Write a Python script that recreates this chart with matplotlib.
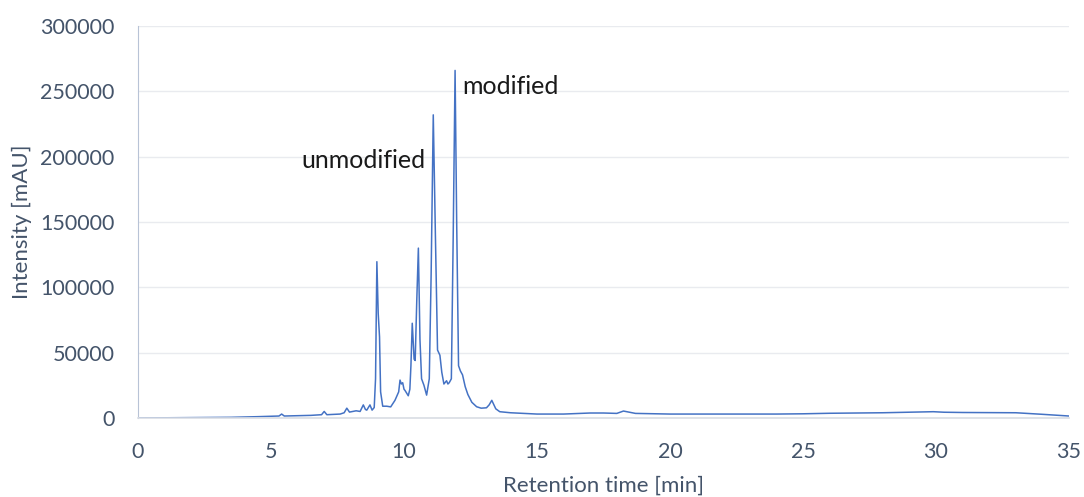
import numpy as np
import matplotlib.pyplot as plt

plt.rcParams['font.family'] = ['Lato', 'DejaVu Sans']

# Chromatogram (retention time in min, intensity in mAU)
time = [0, 3.5, 4.5, 5.3, 5.4, 5.5, 6.5, 6.9, 7.0, 7.1, 7.6, 7.75, 7.85, 7.95,
        8.2, 8.35, 8.47, 8.55, 8.6, 8.72, 8.8, 8.88, 8.93, 8.98, 9.03, 9.08,
        9.12, 9.2, 9.35, 9.5, 9.66, 9.8, 9.85, 9.9, 9.95, 10.0, 10.04, 10.16,
        10.22, 10.26, 10.31, 10.38, 10.42, 10.48, 10.54, 10.6, 10.66, 10.75,
        10.85, 10.95, 11.02, 11.1, 11.18, 11.26, 11.35, 11.42, 11.5, 11.6,
        11.65, 11.7, 11.78, 11.85, 11.92, 11.98, 12.05, 12.12, 12.2, 12.3,
        12.4, 12.55, 12.73, 12.9, 13.1, 13.2, 13.3, 13.45, 13.6, 14.0, 15, 16,
        17, 17.5, 18, 18.25, 18.7, 20, 22, 24, 25, 26, 28, 29.9, 30.3, 31, 33,
        34, 35]
intensity = [0, 500, 1000, 1500, 3000, 1500, 2000, 2500, 5000, 2500, 3000,
             4000, 7500, 4500, 5500, 5000, 10000, 6500, 6000, 10000, 6000, 8000,
             30000, 119600, 80000, 62000, 20000, 9000, 9000, 8500, 13500, 20000,
             29000, 26000, 27000, 22000, 21000, 17000, 22000, 40000, 72500,
             45000, 44000, 90000, 130000, 60000, 30000, 25000, 17500, 30000,
             110000, 232000, 140000, 52000, 48000, 35000, 26000, 28500, 26000,
             27000, 30000, 140000, 266000, 150000, 40000, 36000, 33000, 24000,
             18000, 12000, 8600, 7500, 7800, 10000, 13500, 7000, 4800, 4000,
             3000, 3000, 3800, 3800, 3500, 5300, 3500, 3000, 3000, 3000, 3200,
             3600, 4000, 4800, 4400, 4200, 4000, 2800, 1500]

labels = ['unmodified', 'modified']
label_x = [8.46, 12.2]
label_y = [197000, 254000]

text_color = '#44546A'

fig = plt.figure(figsize=(10.84, 4.97), dpi=100)
ax = fig.add_axes([0.1273, 0.159, 0.8589, 0.7887])

ax.plot(time, intensity, color='#4472C4', linewidth=1.1)

ax.set_xlim(0, 35)
ax.set_ylim(0, 300000)
ax.set_xticks(np.arange(0, 36, 5))
ax.set_yticks(np.arange(0, 300001, 50000))
ax.grid(True, axis='y', color='#E9EBEF', linewidth=1.0)
ax.set_axisbelow(True)

for s in ['top', 'right']:
    ax.spines[s].set_visible(False)
ax.spines['left'].set_color('#B8C3D6')
ax.spines['bottom'].set_color('#D9DDE4')
ax.spines['bottom'].set_linewidth(1.2)
ax.tick_params(length=0, labelsize=15.5, colors=text_color)
ax.tick_params(axis='y', pad=17)
ax.tick_params(axis='x', pad=17)

ax.set_xlabel('Retention time [min]', fontsize=16, color=text_color, labelpad=10)
ax.set_ylabel('Intensity [mAU]', fontsize=16, color=text_color, labelpad=6)

ax.text(label_x[0], label_y[0], labels[0], fontsize=18, color='#1a1a1a',
        ha='center', va='center')
ax.text(label_x[1], label_y[1], labels[1], fontsize=18, color='#1a1a1a',
        ha='left', va='center')

fig.savefig('out.png', dpi=100)
